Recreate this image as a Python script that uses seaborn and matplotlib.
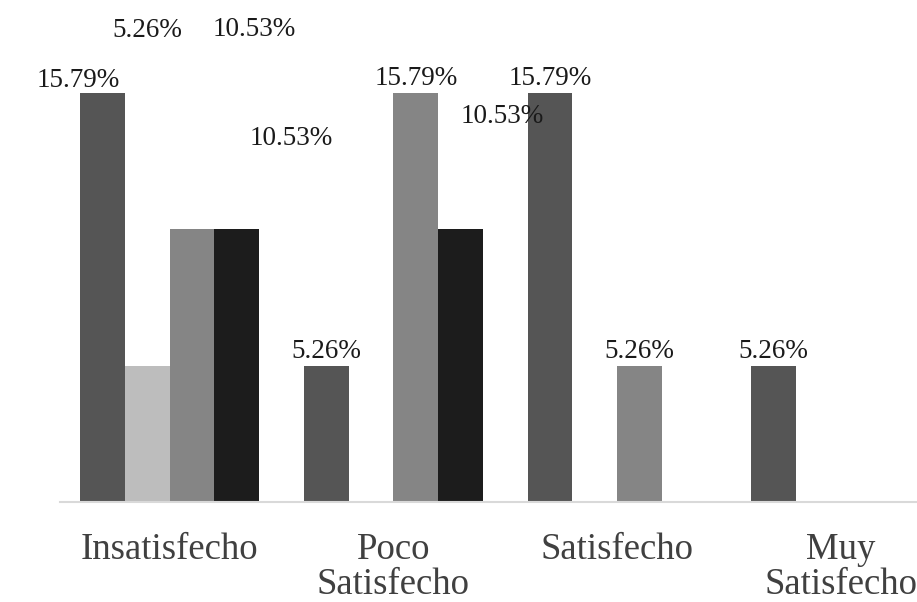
import pandas as pd
import seaborn as sns
import matplotlib.pyplot as plt

# categories and series (values in %)
categorias = ['Insatisfecho', 'Poco\nSatisfecho', 'Satisfecho', 'Muy\nSatisfecho']
series = ['Serie 1', 'Serie 2', 'Serie 3', 'Serie 4']
serie1 = [15.79, 5.26, 15.79, 5.26]
serie2 = [5.26, 0, 0, 0]
serie3 = [10.53, 15.79, 5.26, 0]
serie4 = [10.53, 10.53, 0, 0]

colores = ['#555555', '#bdbdbd', '#858585', '#1c1c1c']

# label offsets (pixels) for the labels that sit away from their bar
desplaz = {(0, 0): (-24, 6), (0, 1): (0, 329), (0, 2): (62, 193),
           (0, 3): (54, 84), (1, 3): (42, 106)}

rows = []
for s, vals in zip(series, [serie1, serie2, serie3, serie4]):
    for c, v in zip(categorias, vals):
        rows.append([c, s, v])
df = pd.DataFrame(rows, columns=['Categoria', 'Serie', 'Valor'])

sns.set_style('white')
plt.rcParams['font.family'] = ['Liberation Serif', 'DejaVu Serif']

fig = plt.figure(figsize=(9.17, 6.02), dpi=100)
ax = fig.add_axes([0.0654, 0.166, 0.9346, 0.834])

sns.barplot(data=df, x='Categoria', y='Valor', hue='Serie', order=categorias,
            hue_order=series, palette=colores, width=0.8, saturation=1,
            edgecolor='none', legend=False, ax=ax)

# value labels
for j, cont in enumerate(ax.containers):
    for i, bar in enumerate(cont):
        h = bar.get_height()
        if h <= 0:
            continue
        dx, dy = desplaz.get((i, j), (0, 8))
        ax.annotate(f'{h:.2f}%', (bar.get_x() + bar.get_width() / 2, h),
                    xytext=(dx, dy), textcoords='offset pixels',
                    ha='center', va='baseline', fontsize=19.5,
                    color='#1a1a1a', annotation_clip=False)

ax.set_xlim(-0.49, 3.34)
ax.set_ylim(0, 19.38)
ax.set_xlabel('')
ax.set_ylabel('')
ax.set_yticks([])
ax.tick_params(axis='x', length=0, pad=22, labelsize=26.5, labelcolor='#404040')
for t in ax.get_xticklabels():
    t.set_linespacing(1.0)

sns.despine(left=True, top=True, right=True)
ax.spines['bottom'].set_color('#d9d9d9')
ax.spines['bottom'].set_linewidth(1.5)

fig.savefig('out.png', dpi=100)
